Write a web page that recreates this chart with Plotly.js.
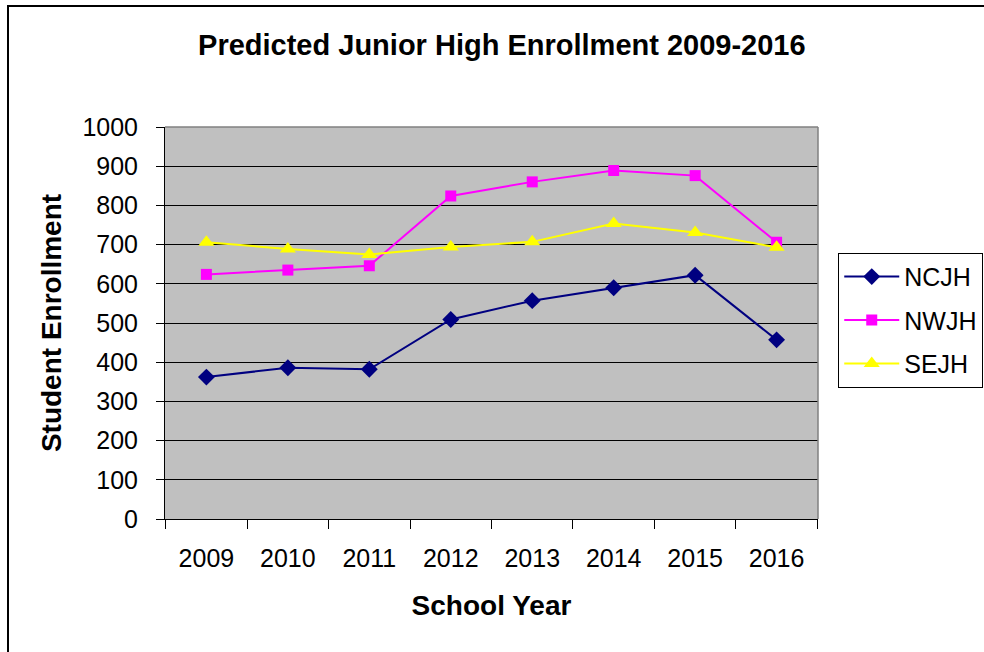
<!DOCTYPE html>
<html>
<head>
<meta charset="utf-8">
<script src="https://cdn.plot.ly/plotly-3.0.1.min.js"></script>
<style>
html,body{margin:0;padding:0;background:#fff;overflow:hidden;}
#frame{position:absolute;left:7px;top:5px;width:1000px;height:700px;border:2.5px solid #000;box-sizing:border-box;pointer-events:none;z-index:2;}
#chart{position:absolute;left:0;top:0;width:984px;height:652px;}
</style>
</head>
<body>
<div id="chart"></div>
<div id="frame"></div>
<script>
const years = ['2009','2010','2011','2012','2013','2014','2015','2016'];
const ncjh = [362, 386, 382, 509, 557, 590, 622, 457];
const nwjh = [624, 635, 646, 824, 860, 889, 876, 706];
const sejh = [706, 689, 675, 694, 707, 754, 731, 693];
const yTicks = [0,100,200,300,400,500,600,700,800,900,1000];

const font = 'Liberation Sans, Arial, sans-serif';
const traces = [
  {x: years, y: ncjh, name: 'NCJH', type: 'scatter', mode: 'lines+markers', legendgroup: 'a',
   line: {color: '#000080', width: 2}, marker: {symbol: 'diamond', size: 13, color: '#000080'}},
  {x: years, y: nwjh, name: 'NWJH', type: 'scatter', mode: 'lines+markers', legendgroup: 'b',
   line: {color: '#FF00FF', width: 2}, marker: {symbol: 'square', size: 11, color: '#FF00FF'}},
  {x: years, y: sejh, name: 'SEJH', type: 'scatter', mode: 'lines+markers', legendgroup: 'c',
   line: {color: '#FFFF00', width: 2}, marker: {symbol: 'triangle-up', size: 14, color: '#FFFF00'}}
];
const layout = {
  width: 984, height: 652,
  margin: {l: 165, r: 166, t: 127, b: 133, autoexpand: false},
  paper_bgcolor: '#FFFFFF', plot_bgcolor: '#C0C0C0',
  font: {family: font, size: 25, color: '#000'},
  title: {text: '<b>Predicted Junior High Enrollment 2009-2016</b>', font: {family: font, size: 29, color: '#000'},
          x: 0.510, xref: 'container', xanchor: 'center', y: 0.931, yref: 'container', yanchor: 'middle'},
  xaxis: {type: 'category', categoryorder: 'array', categoryarray: years,
          tickson: 'boundaries', ticks: 'outside', ticklen: 9, tickcolor: '#000', tickwidth: 1,
          showline: true, linecolor: '#000', linewidth: 1, showgrid: false, mirror: false,
          tickfont: {size: 25}, ticklabelstandoff: 17,
          title: {text: '<b>School Year</b>', font: {size: 28}, standoff: 24}},
  yaxis: {range: [0, 1000], tickvals: yTicks, ticks: 'outside', ticklen: 8, tickcolor: '#000',
          showline: true, linecolor: '#000', linewidth: 1, showgrid: true, gridcolor: '#000', gridwidth: 1,
          zeroline: false, tickfont: {size: 25}, ticklabelstandoff: 13,
          title: {text: '<b>Student Enrollment</b>', font: {size: 28}, standoff: 12}},
  legend: {x: 1.031, xanchor: 'left', y: 0.679, yanchor: 'top', bgcolor: '#FFFFFF',
           bordercolor: '#000', borderwidth: 1, font: {size: 25}, traceorder: 'grouped', tracegroupgap: 8, itemwidth: 55},
  showlegend: true,
  shapes: [
    {type: 'line', xref: 'paper', yref: 'paper', x0: 0, x1: 1, y0: 1, y1: 1, line: {color: '#808080', width: 1.5}},
    {type: 'line', xref: 'paper', yref: 'paper', x0: 1, x1: 1, y0: 0, y1: 1, line: {color: '#808080', width: 1.5}}
  ]
};
Plotly.newPlot('chart', traces, layout, {staticPlot: true, displayModeBar: false});
</script>
</body>
</html>
